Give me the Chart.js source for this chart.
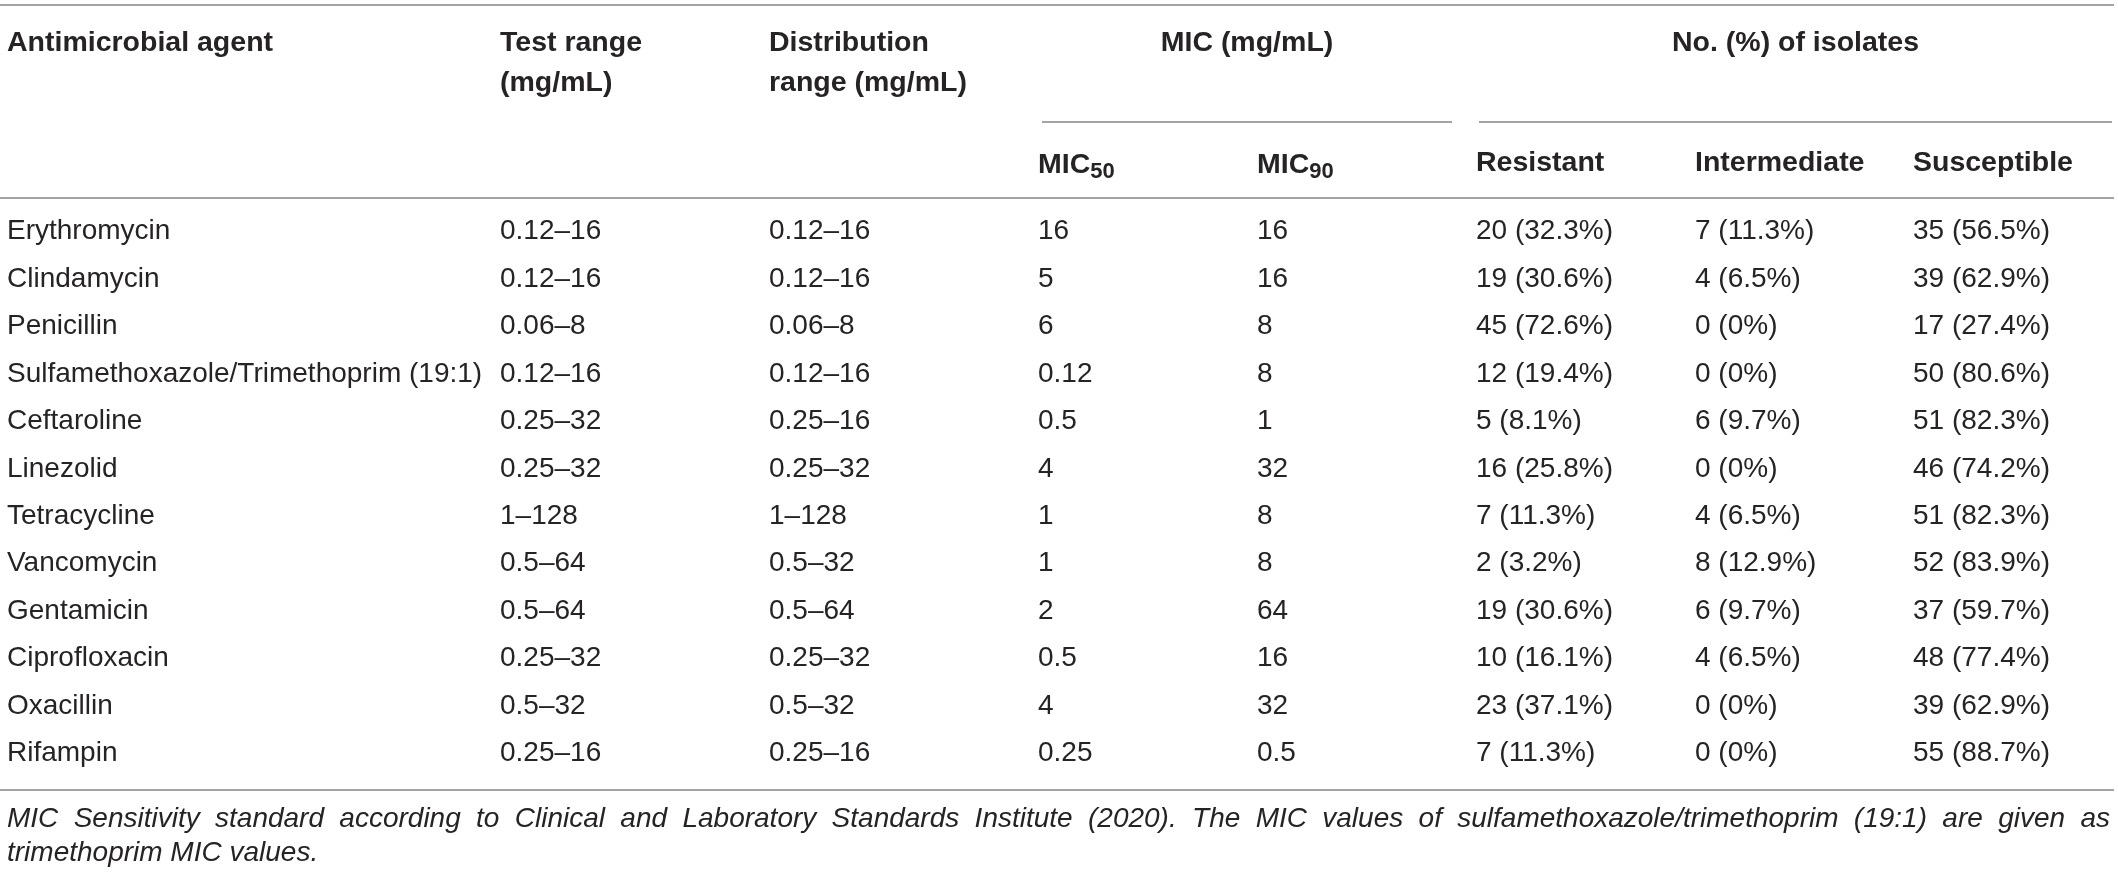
<!DOCTYPE html>
<html>
<head>
<meta charset="utf-8">
<script src="https://cdn.jsdelivr.net/npm/chart.js@4.4.1/dist/chart.umd.min.js"></script>
<style>
    html, body { margin: 0; padding: 0; background: #ffffff; }
    #wrap { width: 2118px; height: 875px; }
</style>
</head>
<body>
<div id="wrap"><canvas id="micTable" width="2118" height="875"></canvas></div>
<script>
const agents = [
    'Erythromycin', 'Clindamycin', 'Penicillin', 'Sulfamethoxazole/Trimethoprim (19:1)',
    'Ceftaroline', 'Linezolid', 'Tetracycline', 'Vancomycin',
    'Gentamicin', 'Ciprofloxacin', 'Oxacillin', 'Rifampin'
];
const testRange = ['0.12–16', '0.12–16', '0.06–8', '0.12–16', '0.25–32', '0.25–32', '1–128', '0.5–64', '0.5–64', '0.25–32', '0.5–32', '0.25–16'];
const distRange = ['0.12–16', '0.12–16', '0.06–8', '0.12–16', '0.25–16', '0.25–32', '1–128', '0.5–32', '0.5–64', '0.25–32', '0.5–32', '0.25–16'];
const mic50 = [16, 5, 6, 0.12, 0.5, 4, 1, 1, 2, 0.5, 4, 0.25];
const mic90 = [16, 16, 8, 8, 1, 32, 8, 8, 64, 16, 32, 0.5];
const resistantN = [20, 19, 45, 12, 5, 16, 7, 2, 19, 10, 23, 7];
const resistantPct = [32.3, 30.6, 72.6, 19.4, 8.1, 25.8, 11.3, 3.2, 30.6, 16.1, 37.1, 11.3];
const intermediateN = [7, 4, 0, 0, 6, 0, 4, 8, 6, 4, 0, 0];
const intermediatePct = [11.3, 6.5, 0, 0, 9.7, 0, 6.5, 12.9, 9.7, 6.5, 0, 0];
const susceptibleN = [35, 39, 17, 50, 51, 46, 51, 52, 37, 48, 39, 55];
const susceptiblePct = [56.5, 62.9, 27.4, 80.6, 82.3, 74.2, 82.3, 83.9, 59.7, 77.4, 62.9, 88.7];

const footnote = [
    'MIC Sensitivity standard according to Clinical and Laboratory Standards Institute (2020). The MIC values of sulfamethoxazole/trimethoprim (19:1) are given as',
    'trimethoprim MIC values.'
];

// layout (pixels)
const colX = [7, 500, 769, 1038, 1257, 1476, 1695, 1913];
const textColor = '#262324';
const ruleColor = '#a3a3a3';
const family = '"Liberation Sans", Arial, Helvetica, sans-serif';

function pct(n, p) {
    return n + ' (' + p + '%)';
}

const columns = [
    testRange,
    distRange,
    mic50.map(String),
    mic90.map(String),
    resistantN.map((n, i) => pct(n, resistantPct[i])),
    intermediateN.map((n, i) => pct(n, intermediatePct[i])),
    susceptibleN.map((n, i) => pct(n, susceptiblePct[i]))
];

function rule(ctx, x1, x2, y) {
    ctx.save();
    ctx.strokeStyle = ruleColor;
    ctx.lineWidth = 2;
    ctx.beginPath();
    ctx.moveTo(x1, y);
    ctx.lineTo(x2, y);
    ctx.stroke();
    ctx.restore();
}

// MIC with subscript, drawn on the alphabetic baseline
function micSub(ctx, x, base, sub) {
    ctx.save();
    ctx.textBaseline = 'alphabetic';
    ctx.font = 'bold 28.5px ' + family;
    ctx.fillText('MIC', x, base);
    const w = ctx.measureText('MIC').width;
    ctx.font = 'bold 22px ' + family;
    ctx.fillText(sub, x + w, base + 5);
    ctx.restore();
}

const tablePlugin = {
    id: 'tableText',
    afterDraw(chart) {
        const ctx = chart.ctx;
        const yScale = chart.scales.y;
        ctx.save();
        ctx.fillStyle = textColor;
        ctx.textBaseline = 'middle';
        ctx.textAlign = 'left';

        // header
        ctx.font = 'bold 28.5px ' + family;
        ctx.fillText('Antimicrobial agent', colX[0], 43);
        ctx.fillText('Test range', colX[1], 43);
        ctx.fillText('(mg/mL)', colX[1], 83);
        ctx.fillText('Distribution', colX[2], 43);
        ctx.fillText('range (mg/mL)', colX[2], 83);
        ctx.textAlign = 'center';
        ctx.fillText('MIC (mg/mL)', (1042 + 1452) / 2, 43);
        ctx.fillText('No. (%) of isolates', (1479 + 2112) / 2, 43);
        ctx.textAlign = 'left';
        micSub(ctx, colX[3], 173, '50');
        micSub(ctx, colX[4], 173, '90');
        ctx.font = 'bold 28.5px ' + family;
        ctx.fillText('Resistant', colX[5], 163);
        ctx.fillText('Intermediate', colX[6], 163);
        ctx.fillText('Susceptible', colX[7], 163);

        // body cells, rows from the category scale
        ctx.font = '28px ' + family;
        columns.forEach((col, c) => {
            col.forEach((txt, i) => {
                ctx.fillText(txt, colX[c + 1], yScale.getPixelForTick(i));
            });
        });

        // footnote, first line justified
        ctx.font = 'italic 28px ' + family;
        const words = footnote[0].split(' ');
        const left = 7, right = 2110;
        const widths = words.map(w => ctx.measureText(w).width);
        const gap = (right - left - widths.reduce((a, b) => a + b, 0)) / (words.length - 1);
        let x = left;
        words.forEach((w, i) => {
            ctx.fillText(w, x, 819);
            x += widths[i] + gap;
        });
        ctx.fillText(footnote[1], left, 853);
        ctx.restore();

        // rules
        rule(ctx, 0, 2114, 5);
        rule(ctx, 1042, 1452, 122);
        rule(ctx, 1479, 2112, 122);
        rule(ctx, 0, 2114, 198);
        rule(ctx, 0, 2114, 790);
    }
};

const config = {
    type: 'bar',
    data: {
        labels: agents,
        datasets: []
    },
    options: {
        indexAxis: 'y',
        responsive: false,
        animation: false,
        layout: {
            padding: { top: 208, bottom: 98, left: 7, right: 4 }
        },
        plugins: {
            legend: { display: false },
            tooltip: { enabled: false }
        },
        scales: {
            x: { display: false },
            y: {
                type: 'category',
                position: 'left',
                grid: { display: false },
                border: { display: false },
                ticks: {
                    autoSkip: false,
                    crossAlign: 'far',
                    padding: 0,
                    color: textColor,
                    font: { family: family, size: 28 }
                }
            }
        }
    },
    plugins: [tablePlugin]
};

const micChart = new Chart(document.getElementById('micTable'), config);
</script>
</body>
</html>
